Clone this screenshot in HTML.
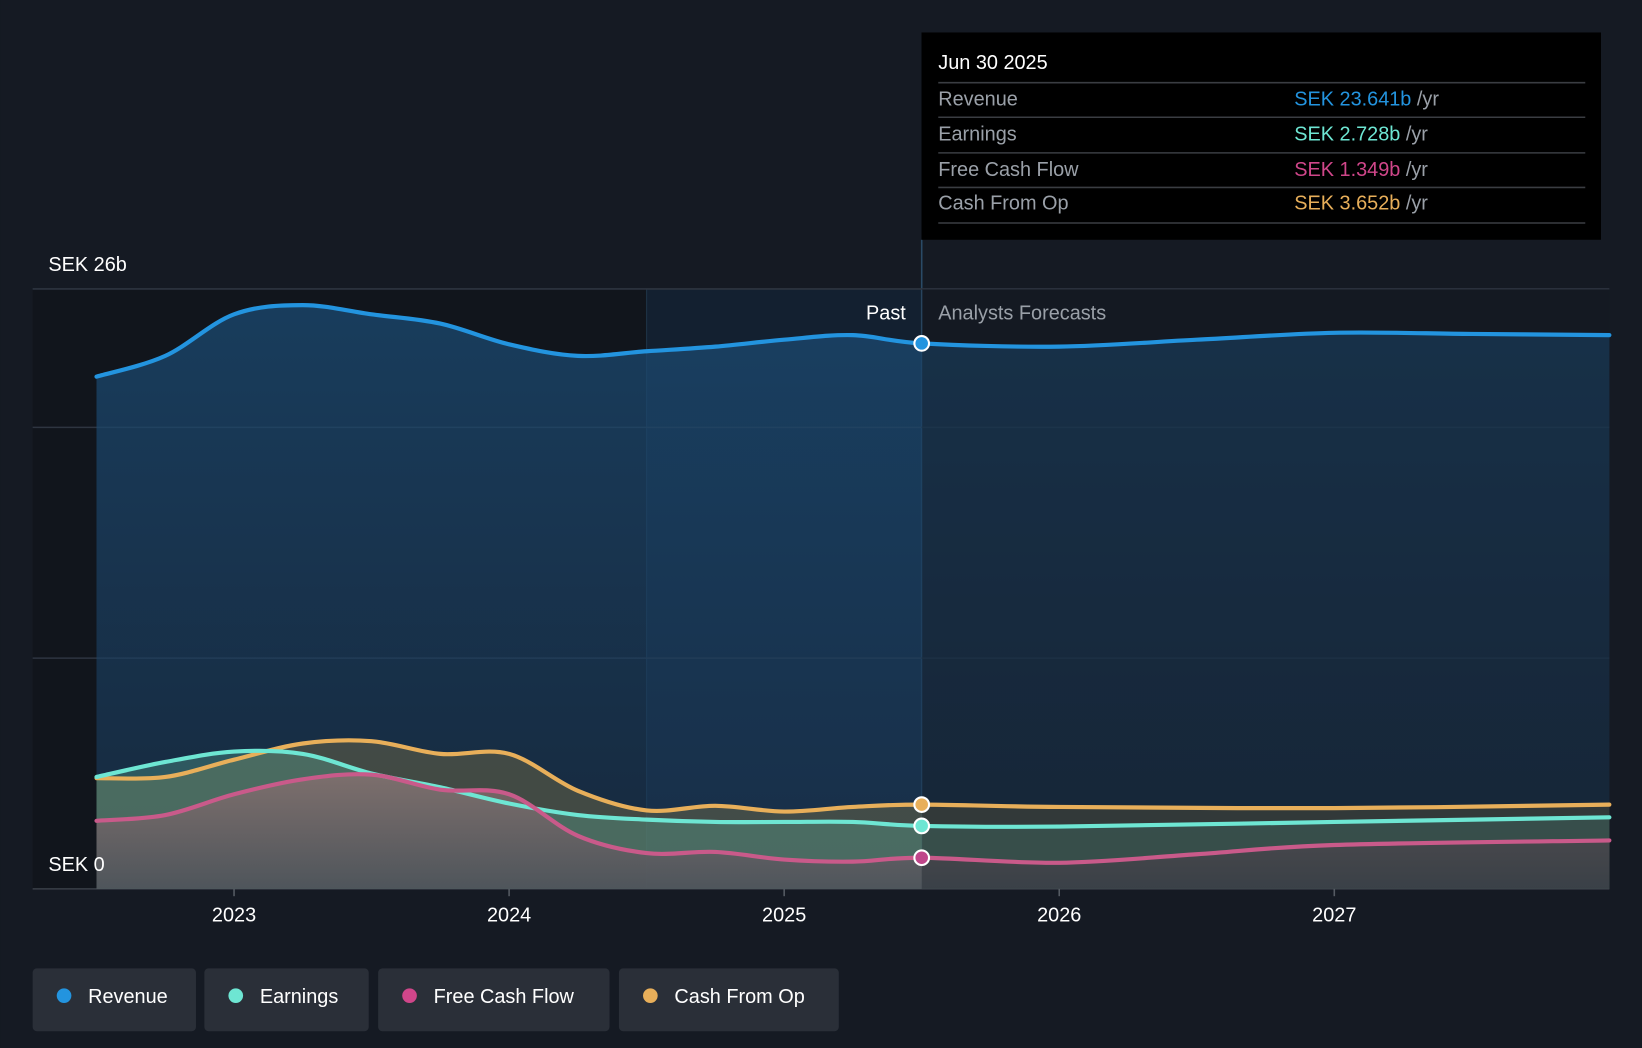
<!DOCTYPE html>
<html><head><meta charset="utf-8"><style>
html,body{margin:0;padding:0;background:#151a23;width:1642px;height:1048px;overflow:hidden}
svg{display:block;font-family:"Liberation Sans",sans-serif}
</style></head><body>
<svg id="chart" width="1642" height="1048" viewBox="0 0 1568 1001" xmlns="http://www.w3.org/2000/svg">
<defs>
<linearGradient id="revFill" x1="0" y1="0" x2="0" y2="1"><stop offset="0" stop-color="#1b4a72" stop-opacity="0.75"/><stop offset="1" stop-color="#1b3a5a" stop-opacity="0.55"/></linearGradient>
<linearGradient id="lowFill" x1="0" y1="0" x2="0" y2="1"><stop offset="0" stop-color="#8a7070" stop-opacity="0.8"/><stop offset="1" stop-color="#50505a" stop-opacity="0.8"/></linearGradient>
</defs>
<rect x="0" y="0" width="1568" height="1001" fill="#151a23"/>
<g id="bands"></g>
<g id="grid"></g>
<g id="areas"></g>
<g id="dimlayer"></g>
<g id="lines"></g>
<g id="markers"></g>
<g id="axis"></g>
<text x="46" y="259" fill="#ffffff" font-size="19">SEK 26b</text>
<text x="46" y="832" fill="#ffffff" font-size="19">SEK 0</text>
<text x="865" y="305" fill="#ffffff" font-size="19" text-anchor="end">Past</text>
<text x="896" y="305" fill="#9aa0a8" font-size="19">Analysts Forecasts</text>
<g>
<rect x="880" y="31" width="649" height="198" fill="#000000"/>
<text x="896" y="66" fill="#ffffff" font-size="19">Jun 30 2025</text>
<line x1="896" y1="79" x2="1514" y2="79" stroke="#3a3d42" stroke-width="1.5"/>
<text x="896" y="101" fill="#9aa0a8" font-size="19">Revenue</text>
<text x="1236" y="101" font-size="19"><tspan fill="#2394df">SEK 23.641b</tspan><tspan fill="#9aa0a8"> /yr</tspan></text>
<line x1="896" y1="112" x2="1514" y2="112" stroke="#3a3d42" stroke-width="1.5"/>
<text x="896" y="134" fill="#9aa0a8" font-size="19">Earnings</text>
<text x="1236" y="134" font-size="19"><tspan fill="#6ee6d3">SEK 2.728b</tspan><tspan fill="#9aa0a8"> /yr</tspan></text>
<line x1="896" y1="146" x2="1514" y2="146" stroke="#3a3d42" stroke-width="1.5"/>
<text x="896" y="168" fill="#9aa0a8" font-size="19">Free Cash Flow</text>
<text x="1236" y="168" font-size="19"><tspan fill="#d0468a">SEK 1.349b</tspan><tspan fill="#9aa0a8"> /yr</tspan></text>
<line x1="896" y1="179" x2="1514" y2="179" stroke="#3a3d42" stroke-width="1.5"/>
<text x="896" y="200" fill="#9aa0a8" font-size="19">Cash From Op</text>
<text x="1236" y="200" font-size="19"><tspan fill="#e8af5a">SEK 3.652b</tspan><tspan fill="#9aa0a8"> /yr</tspan></text>
<line x1="896" y1="213" x2="1514" y2="213" stroke="#3a3d42" stroke-width="1.5"/>
</g>
<g>
<g><rect x="31" y="925" width="156" height="60" rx="4" fill="#2a2f38"/><circle cx="61" cy="951" r="7" fill="#2394df"/><text x="84" y="958" fill="#fff" font-size="19">Revenue</text></g>
<g><rect x="195" y="925" width="157" height="60" rx="4" fill="#2a2f38"/><circle cx="225" cy="951" r="7" fill="#6ee6d3"/><text x="248" y="958" fill="#fff" font-size="19">Earnings</text></g>
<g><rect x="361" y="925" width="221" height="60" rx="4" fill="#2a2f38"/><circle cx="391" cy="951" r="7" fill="#d0468a"/><text x="414" y="958" fill="#fff" font-size="19">Free Cash Flow</text></g>
<g><rect x="591" y="925" width="210" height="60" rx="4" fill="#2a2f38"/><circle cx="621" cy="951" r="7" fill="#e8af5a"/><text x="644" y="958" fill="#fff" font-size="19">Cash From Op</text></g>
</g>
</svg>
<script>
const years = [2023, 2024, 2025, 2026, 2027];
const gridValues = [0, 10, 20, 26];
const revT = [2022.5,2022.75,2023,2023.25,2023.5,2023.75,2024,2024.25,2024.5,2024.75,2025,2025.25,2025.5,2026,2026.5,2027,2027.5,2028];
const revV = [22.2,23.1,24.9,25.3,24.9,24.5,23.6,23.1,23.3,23.5,23.8,24.0,23.641,23.5,23.8,24.1,24.05,24.0];
const earnT = [2022.5,2022.75,2023,2023.25,2023.5,2023.75,2024,2024.25,2024.5,2024.75,2025,2025.25,2025.5,2026,2027,2028];
const earnV = [4.85,5.5,5.95,5.85,5.0,4.4,3.7,3.2,3.0,2.9,2.9,2.9,2.728,2.7,2.9,3.1];
const fcfT = [2022.5,2022.75,2023,2023.25,2023.5,2023.75,2024,2024.25,2024.5,2024.75,2025,2025.25,2025.5,2026,2026.5,2027,2028];
const fcfV = [2.95,3.2,4.1,4.75,4.95,4.3,4.1,2.3,1.55,1.6,1.27,1.18,1.349,1.13,1.5,1.9,2.1];
const cfoT = [2022.5,2022.75,2023,2023.25,2023.5,2023.75,2024,2024.25,2024.5,2024.75,2025,2025.25,2025.5,2026,2027,2028];
const cfoV = [4.8,4.85,5.6,6.3,6.4,5.85,5.85,4.25,3.4,3.6,3.35,3.55,3.652,3.55,3.5,3.65];
const nowT = 2025.5;

const NS = 'http://www.w3.org/2000/svg';
const X0 = 92, X1 = 1537, T0 = 2022.5, T1 = 2028, Y0 = 849, Y1 = 276, VMAX = 26;
function xs(t){ return X0 + (t - T0) / (T1 - T0) * (X1 - X0); }
function ys(v){ return Y0 - v / VMAX * (Y0 - Y1); }
function mk(tag, attrs, parent){ const e = document.createElementNS(NS, tag); for (const k in attrs) e.setAttribute(k, attrs[k]); parent.appendChild(e); return e; }
function curve(ts, vs){
  const p = ts.map((t,i)=>[xs(t), ys(vs[i])]);
  let d = 'M' + p[0][0] + ',' + p[0][1];
  for (let i=0;i<p.length-1;i++){
    const a = p[i-1]||p[i], b=p[i], c=p[i+1], e=p[i+2]||c;
    const c1=[b[0]+(c[0]-a[0])/6, b[1]+(c[1]-a[1])/6], c2=[c[0]-(e[0]-b[0])/6, c[1]-(e[1]-b[1])/6];
    d += ' C'+c1[0]+','+c1[1]+' '+c2[0]+','+c2[1]+' '+c[0]+','+c[1];
  }
  return d;
}
const bands = document.getElementById('bands');
const bg1 = mk('rect',{x:31,y:Y1,width:xs(2024.5)-31,height:Y0-Y1,fill:'#11151c'},bands);


const bg2 = mk('rect',{x:xs(2024.5),y:Y1,width:xs(nowT)-xs(2024.5),height:Y0-Y1,fill:'#132030'},bands);


const nowLine = mk('line',{x1:xs(nowT),x2:xs(nowT),y1:229,y2:Y0,stroke:'#2a4a66','stroke-width':1.5},bands);


mk('line',{x1:xs(2024.5),x2:xs(2024.5),y1:Y1,y2:Y0,stroke:'#1f3548','stroke-width':1},bands);

const grid = document.getElementById('grid');
gridValues.forEach(v=>{
  const g = mk('line',{x1:31,x2:X1,y1:ys(v),y2:ys(v),stroke: v===0?'#3a3f47':'#2e3540','stroke-width':1.5},grid);
  
  
});

const areas = document.getElementById('areas');
const lines = document.getElementById('lines');
function area(ts, vs, fill, stroke, name){
  const d = curve(ts, vs);
  const a = mk('path',{d: d + ' L'+xs(ts[ts.length-1])+','+Y0+' L'+xs(ts[0])+','+Y0+' Z', fill: fill},areas);
  
  
  const l = mk('path',{d:d, fill:'none', stroke:stroke,'stroke-width':4,'stroke-linecap':'round'},lines);
  
  
}
area(revT, revV, 'url(#revFill)', '#2394df', 'revenue');
area(cfoT, cfoV, 'rgba(120,110,70,0.45)', '#e8af5a', 'cash-from-op');
area(earnT, earnV, 'rgba(90,170,150,0.35)', '#6ee6d3', 'earnings');
area(fcfT, fcfV, 'url(#lowFill)', '#c95a8a', 'free-cash-flow');
const dim = mk('rect',{x:xs(nowT),y:Y1,width:X1-xs(nowT),height:Y0-Y1,fill:'rgba(21,26,35,0.35)'},document.getElementById('dimlayer'));



const markers = document.getElementById('markers');
function val(ts, vs, t){ return vs[ts.indexOf(t)]; }
[[revT,revV,'#2394df','revenue-marker'],[cfoT,cfoV,'#e8af5a','cash-from-op-marker'],[earnT,earnV,'#6ee6d3','earnings-marker'],[fcfT,fcfV,'#c0468a','free-cash-flow-marker']].forEach(s=>{
  const c = mk('circle',{cx:xs(nowT),cy:ys(val(s[0],s[1],nowT)),r:7,fill:s[2],stroke:'#fff','stroke-width':2},markers);
  
  
});

const axis = document.getElementById('axis');
years.forEach(y=>{
  mk('line',{x1:xs(y),x2:xs(y),y1:Y0,y2:Y0+7,stroke:'#555b63','stroke-width':1.5},axis);
  const t = mk('text',{x:xs(y),y:880,fill:'#ffffff','font-size':19,'text-anchor':'middle'},axis);
  t.textContent = y;
  
  
});
</script>
</body></html>
